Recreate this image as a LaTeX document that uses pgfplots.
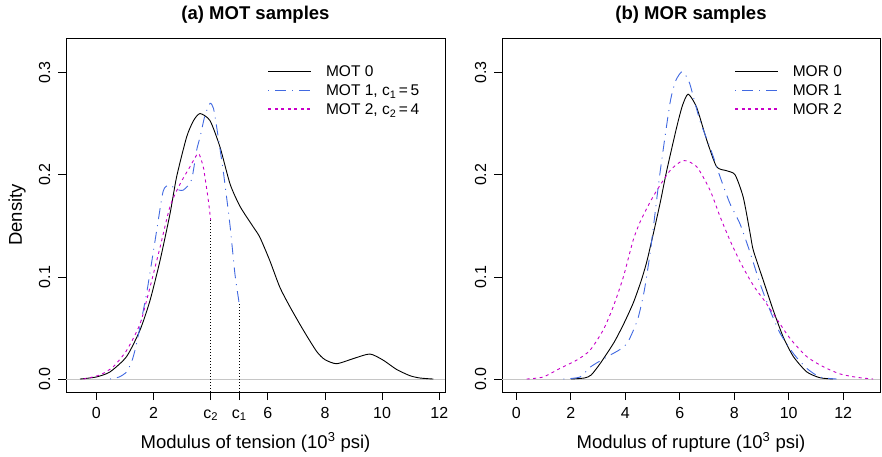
\documentclass[border=0pt]{standalone}
\usepackage{pgfplots}
\pgfplotsset{compat=1.18}
\usepackage{fontspec}
\setmainfont{Liberation Sans}
\definecolor{myblue}{RGB}{65,105,225}
\definecolor{mymag}{RGB}{200,0,200}
\pgfplotsset{
  rstyle/.style={
    scale only axis,
    width=379pt, height=354pt,
    ymin=-0.0127, ymax=0.334,
    axis line style={black, line width=0.8pt},
    tick align=outside,
    major tick length=8pt,
    tick style={black, line width=0.8pt},
    xtick pos=bottom, ytick pos=left,
    ytick={0,0.1,0.2,0.3},
    yticklabels={0.0,0.1,0.2,0.3},
    tick label style={font=\fontsize{16}{16}\selectfont},
    xticklabel style={anchor=base},
    yticklabel style={rotate=90, anchor=base},
    xticklabel shift=18pt,
    yticklabel shift=8pt,
    every axis title/.style={at={(axis description cs:0.5,1.0523)}, anchor=base, font=\fontsize{18.5}{18.5}\selectfont\bfseries},
    every axis x label/.style={at={(axis description cs:0.5,-0.1582)}, anchor=base, font=\fontsize{18.5}{18.5}\selectfont},
    every axis y label/.style={at={(axis description cs:-0.1161,0.5)}, rotate=90, anchor=base, font=\fontsize{18.5}{18.5}\selectfont},
    legend cell align=left,
    legend style={draw=none, fill=none, inner sep=0pt, row sep=0pt, column sep=14pt,
      font=\fontsize{15.5}{15.5}\selectfont,
      nodes={inner sep=0pt, text height=15pt, text depth=4pt}},
  },
  c0/.style={black, line width=0.9pt, smooth, tension=0.4,
    legend image code/.code={\draw[black, line width=0.9pt] (0pt,0pt) -- (43pt,0pt);}},
  c1/.style={myblue, line width=0.9pt, dash pattern=on 1pt off 6pt on 11pt off 6pt, smooth, tension=0.4,
    legend image code/.code={\draw[myblue, line width=0.9pt, dash pattern=on 1pt off 6pt on 11pt off 6pt] (0pt,0pt) -- (43pt,0pt);}},
  c2/.style={mymag, line width=0.9pt, dash pattern=on 3pt off 3.5pt, smooth, tension=0.4,
    legend image code/.code={\draw[draw=mymag, line width=1.6pt, dash pattern=on 3pt off 3.5pt] (0pt,0pt) -- (43pt,0pt);}},
}
\begin{document}
\begin{tikzpicture}
\path[use as bounding box] (0,0) rectangle (882pt,457pt);
\begin{axis}[rstyle,
  at={(66pt,65pt)}, anchor=south west,
  xmin=-1.06, xmax=12.2,
  xtick={0,2,4,5,6,8,10,12},
  xticklabels={0,2,c\textsubscript{2},c\textsubscript{1},6,8,10,12},
  title={(a) MOT samples},
  xlabel={Modulus of tension (10\textsuperscript{3} psi)},
  ylabel={Density},
  legend style={at={(axis description cs:0.531,0.9336)}, anchor=north west},
]
\addplot[gray!45, line width=0.8pt, forget plot] coordinates {(-1.06,0) (12.2,0)};
\addplot[black, line width=0.6pt, dash pattern=on 1pt off 2pt, forget plot] coordinates {(4,-0.0127) (4,0.156)};
\addplot[black, line width=0.6pt, dash pattern=on 1pt off 2pt, forget plot] coordinates {(5,-0.0127) (5,0.074)};
\addplot[c0] coordinates {(-0.57,0) (0.0,0.002) (0.48,0.007) (1.06,0.022) (1.53,0.048) (1.88,0.077) (2.23,0.116) (2.58,0.162) (2.81,0.198) (3.16,0.237) (3.4,0.253) (3.63,0.26) (3.98,0.253) (4.33,0.227) (4.68,0.191) (5.03,0.169) (5.49,0.149) (5.72,0.139) (6.07,0.116) (6.42,0.090) (6.77,0.071) (7.24,0.048) (7.71,0.027) (8.0,0.019) (8.41,0.015) (8.99,0.020) (9.57,0.0245) (10.03,0.0186) (10.5,0.0095) (10.97,0.0033) (11.32,0.001) (11.79,0)};
\addlegendentry{MOT 0}
\addplot[c1] coordinates {(0.48,0) (0.8,0.002) (1.06,0.007) (1.25,0.018) (1.41,0.035) (1.76,0.084) (2.11,0.145) (2.34,0.184) (2.55,0.190) (2.8,0.186) (3.04,0.185) (3.33,0.195) (3.51,0.224) (3.63,0.237) (3.8,0.258) (3.98,0.270) (4.1,0.265) (4.21,0.247) (4.44,0.204) (4.68,0.150) (4.85,0.103) (5.0,0.074)};
\addlegendentry{MOT 1, c\textsubscript{1}\,=\,5}
\addplot[c2] coordinates {(-0.45,0) (0.13,0.004) (0.59,0.012) (1.06,0.028) (1.53,0.054) (1.88,0.090) (2.23,0.129) (2.58,0.169) (2.93,0.191) (3.28,0.208) (3.57,0.221) (3.74,0.208) (3.80,0.198) (3.92,0.175) (4.0,0.156)};
\addlegendentry{MOT 2, c\textsubscript{2}\,=\,4}
\end{axis}
\begin{axis}[rstyle,
  at={(502pt,65pt)}, anchor=south west, width=378pt,
  xmin=-0.525, xmax=13.35,
  xtick={0,2,4,6,8,10,12},
  xticklabels={0,2,4,6,8,10,12},
  title={(b) MOR samples},
  xlabel={Modulus of rupture (10\textsuperscript{3} psi)},
  legend style={at={(axis description cs:0.6138,0.9336)}, anchor=north west},
]
\addplot[gray!45, line width=0.8pt, forget plot] coordinates {(-0.525,0) (13.35,0)};
\addplot[c0] coordinates {(2.0,0) (2.5,0.001) (2.75,0.004) (3.1,0.016) (3.59,0.036) (3.96,0.055) (4.3,0.075) (4.58,0.096) (4.79,0.115) (5.06,0.146) (5.30,0.175) (5.52,0.204) (5.89,0.247) (6.1,0.268) (6.31,0.279) (6.62,0.266) (6.99,0.234) (7.35,0.208) (7.72,0.204) (8.03,0.200) (8.33,0.178) (8.58,0.143) (8.70,0.126) (9.06,0.097) (9.43,0.0675) (9.80,0.041) (10.17,0.022) (10.66,0.007) (11.14,0.0013) (11.63,0)};
\addlegendentry{MOR 0}
\addplot[c1] coordinates {(1.73,0) (2.34,0.002) (2.73,0.012) (3.35,0.022) (3.81,0.029) (4.09,0.036) (4.45,0.058) (4.70,0.087) (4.94,0.129) (5.27,0.201) (5.64,0.270) (5.85,0.292) (6.07,0.301) (6.2,0.298) (6.37,0.289) (6.74,0.253) (7.11,0.227) (7.48,0.198) (7.84,0.172) (8.21,0.152) (8.58,0.124) (8.94,0.094) (9.31,0.0675) (9.68,0.045) (10.17,0.025) (10.66,0.0105) (11.14,0.002) (11.76,0)};
\addlegendentry{MOR 1}
\addplot[c2] coordinates {(0.38,0) (0.99,0.002) (1.60,0.0104) (2.22,0.0186) (2.70,0.028) (3.19,0.048) (3.56,0.071) (3.93,0.100) (4.29,0.136) (4.58,0.156) (5.05,0.180) (5.64,0.204) (6.13,0.214) (6.62,0.208) (7.11,0.185) (7.48,0.159) (7.84,0.136) (8.21,0.115) (8.58,0.097) (8.82,0.087) (9.10,0.077) (9.43,0.064) (10.04,0.040) (10.66,0.022) (11.27,0.012) (11.88,0.005) (12.49,0.0017) (13.1,0)};
\addlegendentry{MOR 2}
\end{axis}
\end{tikzpicture}
\end{document}
